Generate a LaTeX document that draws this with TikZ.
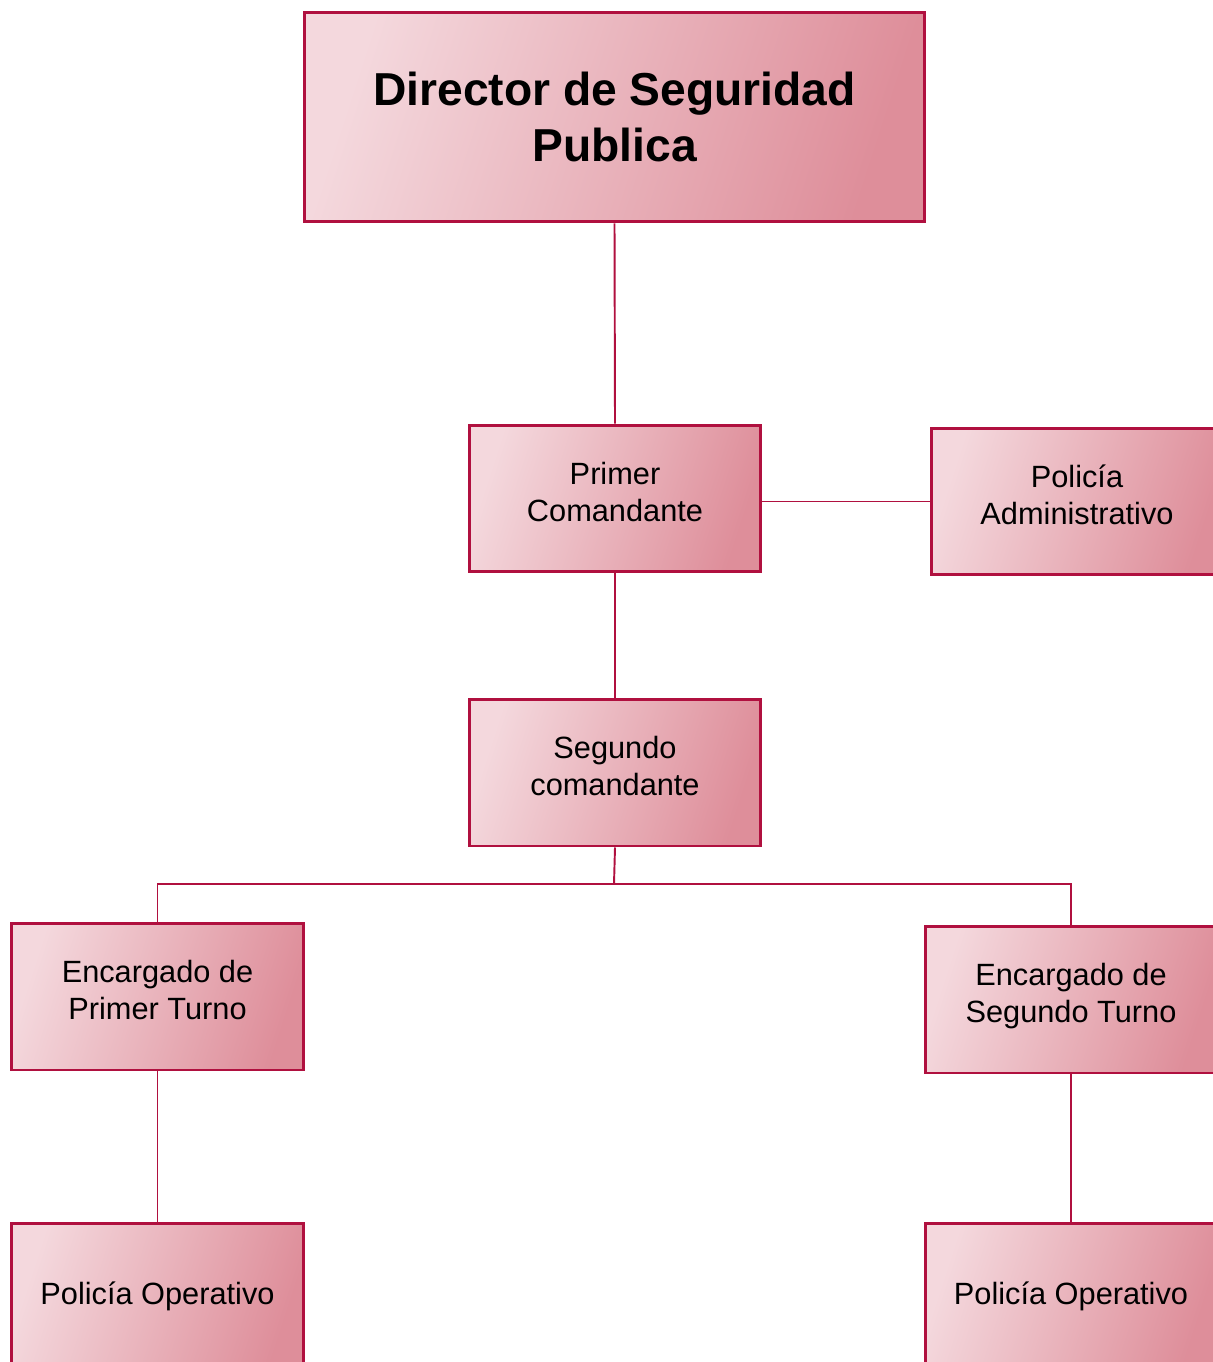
\documentclass[tikz,border=0pt]{standalone}
\usepackage{fontspec}
\setmainfont{Liberation Sans}
\definecolor{edgecol}{HTML}{B0103F}
\definecolor{pinkL}{HTML}{F4D8DD}
\definecolor{pinkD}{HTML}{DE8E9A}
\begin{document}
\begin{tikzpicture}[x=0.02cm,y=-0.02cm,
  box/.style={draw=edgecol, line width=1.7pt, left color=pinkL, right color=pinkD, shading angle=72,
    align=center, inner sep=0pt, text=black, minimum width=5.84cm, minimum height=2.94cm,
    font=\fontsize{17.5}{21}\selectfont},
  twoline/.style={box, text depth=8pt},
  bigbox/.style={box, minimum width=12.42cm, minimum height=4.2cm,
    font=\fontsize{26.3}{31.7}\selectfont\bfseries},
  link/.style={draw=edgecol, line width=1.1pt}]
\useasboundingbox (0,0) rectangle (1213,1362);
\clip (0,0) rectangle (1213,1362);

\node[bigbox] (dir) at (614.5,117) {Director de Seguridad\\Publica};
\node[twoline] (pc) at (615,498.5) {Primer\\Comandante};
\node[twoline] (pa) at (1077,501.5) {Polic\'{\i}a\\Administrativo};
\node[twoline] (sc) at (615,772.5) {Segundo\\comandante};
\node[twoline] (e1) at (157.5,996.5) {Encargado de\\Primer Turno};
\node[twoline] (e2) at (1071,999.5) {Encargado de\\Segundo Turno};
\node[box] (po1) at (157.5,1296.5) {Polic\'{\i}a Operativo};
\node[box] (po2) at (1071,1296.5) {Polic\'{\i}a Operativo};
\coordinate (bus) at (614,884);

\draw[link] (dir.south) -- (pc.north);
\draw[link] (pa.west) -- (pa.west -| pc.east);
\draw[link] (pc.south) -- (sc.north);
\draw[link] (sc.south) -- (bus);
\draw[link] (e1.north) |- (bus) -| (e2.north);
\draw[link] (e1.south) -- (po1.north);
\draw[link] (e2.south) -- (po2.north);
\end{tikzpicture}
\end{document}
